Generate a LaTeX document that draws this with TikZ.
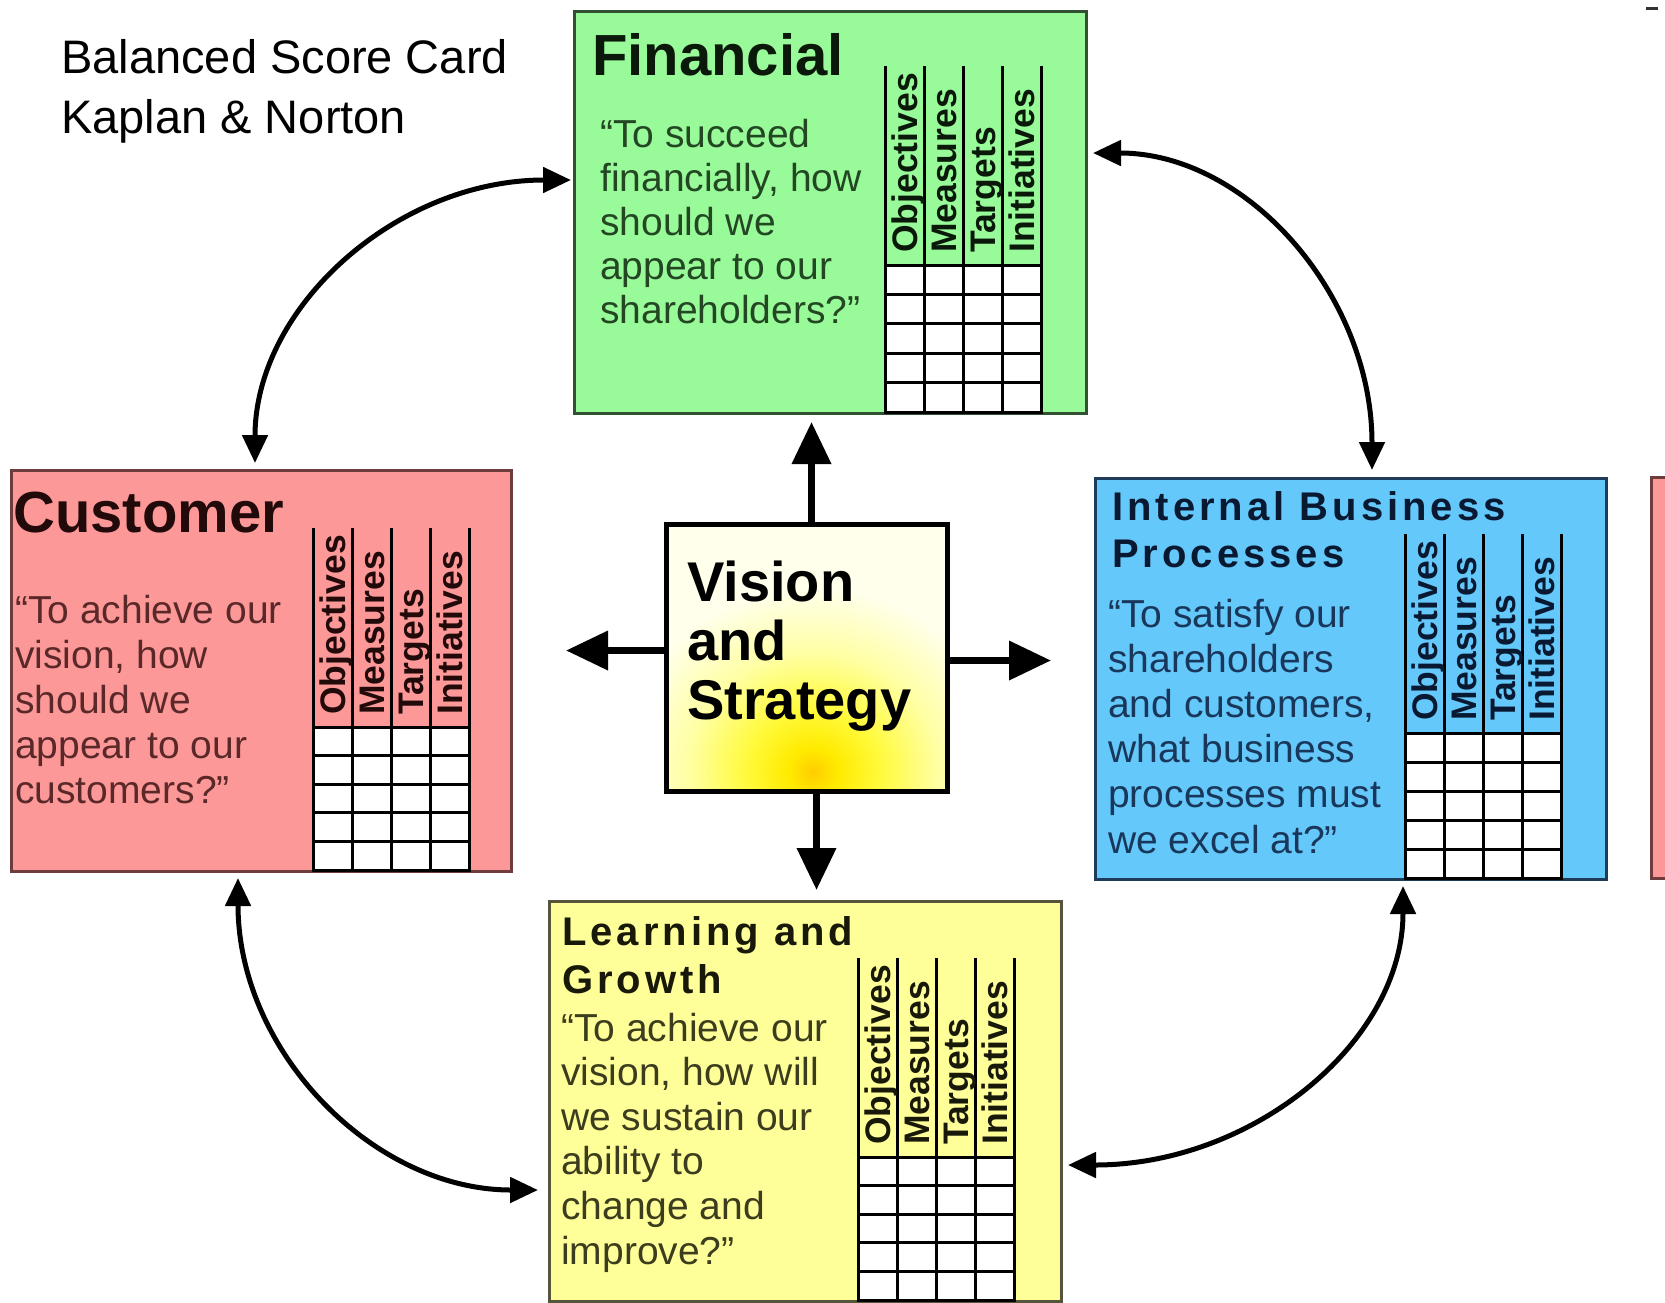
\documentclass[tikz,border=0pt]{standalone}
\usepackage{fontspec}
\setmainfont{Liberation Sans}
\newfontfamily\spacedfont[LetterSpace=10]{Liberation Sans}
\usetikzlibrary{arrows.meta}

\definecolor{finfill}{RGB}{152,250,152}
\definecolor{finline}{RGB}{50,80,50}
\definecolor{fintext}{RGB}{35,70,35}
\definecolor{fintitle}{RGB}{10,25,10}
\definecolor{custfill}{RGB}{252,152,152}
\definecolor{custline}{RGB}{110,60,60}
\definecolor{custtext}{RGB}{90,40,40}
\definecolor{custtitle}{RGB}{35,10,10}
\definecolor{ibpfill}{RGB}{100,200,250}
\definecolor{ibpline}{RGB}{30,60,90}
\definecolor{ibptext}{RGB}{25,55,90}
\definecolor{ibptitle}{RGB}{10,25,50}
\definecolor{lgfill}{RGB}{255,255,153}
\definecolor{lgline}{RGB}{85,85,60}
\definecolor{lgtext}{RGB}{60,60,30}
\definecolor{lgtitle}{RGB}{25,25,10}
\definecolor{visbg}{RGB}{255,255,235}
\definecolor{glowA}{RGB}{255,205,0}
\definecolor{glowB}{RGB}{255,235,0}
\definecolor{glowC}{RGB}{255,250,60}
\definecolor{glowD}{RGB}{255,255,165}

\pgfdeclareradialshading{visglow}{\pgfpoint{0bp}{0bp}}{color(0bp)=(glowA); color(3bp)=(glowB); color(8bp)=(glowC); color(15bp)=(glowD); color(23bp)=(visbg); color(50bp)=(visbg)}

\tikzset{
  panel/.style={draw, line width=3pt, anchor=north west, inner sep=0pt},
  ttl/.style={anchor=base west, inner sep=0pt, font=\bfseries\fontsize{58}{60}\selectfont},
  qtxt/.style={anchor=base west, inner sep=0pt},
  hdr/.style={rotate=90, anchor=base west, inner sep=0pt, font=\bfseries\fontsize{35.5}{40}\selectfont},
  gridline/.style={line width=3pt, black, line cap=rect},
  bigarrow/.style={line width=7pt, -{Triangle[length=42pt,width=38pt]}},
  curvarrow/.style={line width=5pt, {Triangle[length=28pt,width=25pt]}-{Triangle[length=28pt,width=25pt]}},
}

% #1 x0, #2 header bottom y, #3 bottom y, #4 text colour, #5 name prefix
\newcommand{\bsctable}[5]{%
  \fill[white] (#1,#2) rectangle ({#1+156},#3);
  \foreach \i in {0,...,4} \draw[gridline] ({#1+39*\i},{#2-198}) -- ({#1+39*\i},#3);
  \foreach \j in {0,...,5} \draw[gridline] (#1,{#2+(#3-#2)*\j/5}) -- ({#1+156},{#2+(#3-#2)*\j/5});
  \node[hdr, text=#4] (#5obj) at ({#1+32},{#2-12}) {Objectives};
  \node[hdr, text=#4] (#5mea) at ({#1+71},{#2-12}) {Measures};
  \node[hdr, text=#4] (#5tar) at ({#1+110},{#2-12}) {Targets};
  \node[hdr, text=#4] (#5ini) at ({#1+149},{#2-12}) {Initiatives};
}

\begin{document}
\begin{tikzpicture}[x=1pt, y=-1pt]
\useasboundingbox[fill=white] (0,0) rectangle (1665,1302);

% title
\node[qtxt] (title) at (61,73) {\parbox[t]{500pt}{\fontsize{47}{60}\selectfont Balanced Score Card\\Kaplan \& Norton}};

% partial box at right edge and small mark
\fill[custfill] (1651,477) rectangle (1666,878);
\draw[custline, line width=3pt] (1666,477) -- (1651,477) -- (1651,878) -- (1666,878);
\draw[line width=3pt, black!80] (1646,8) -- (1658,8);

% panels
\node[panel, fill=finfill, draw=finline, minimum width=512pt, minimum height=402pt] (fin) at (573,10) {};
\node[panel, fill=custfill, draw=custline, minimum width=500pt, minimum height=401pt] (cust) at (10,469) {};
\node[panel, fill=ibpfill, draw=ibpline, minimum width=511pt, minimum height=401pt] (ibp) at (1094,477) {};
\node[panel, fill=lgfill, draw=lgline, minimum width=512pt, minimum height=400pt] (lg) at (548,900) {};

% tables
\bsctable{885}{265}{412}{fintitle}{f}
\bsctable{313}{727}{870}{custtitle}{c}
\bsctable{1405}{733}{878}{ibptitle}{p}
\bsctable{858}{1157}{1300}{lgtitle}{l}

% panel texts
\node[ttl, text=fintitle] (fint) at (592,75) {Financial};
\node[qtxt, text=fintext] (finq) at (600,147) {\parbox[t]{300pt}{\fontsize{39}{44}\selectfont “To succeed\\financially, how\\should we\\appear to our\\shareholders?”}};

\node[ttl, text=custtitle] (custt) at (13,532) {Customer};
\node[qtxt, text=custtext] (custq) at (15,623) {\parbox[t]{300pt}{\fontsize{39}{45}\selectfont “To achieve our\\vision, how\\should we\\appear to our\\customers?”}};

\node[qtxt, text=ibptitle] (ibpt) at (1112,520) {\parbox[t]{480pt}{\spacedfont\bfseries\fontsize{40}{47}\selectfont Internal Business\\Processes}};
\node[qtxt, text=ibptext] (ibpq) at (1108,627) {\parbox[t]{300pt}{\fontsize{39}{45.2}\selectfont “To satisfy our\\shareholders\\and customers,\\what business\\processes must\\we excel at?”}};

\node[qtxt, text=lgtitle] (lgt) at (562,945) {\parbox[t]{480pt}{\spacedfont\bfseries\fontsize{40}{48}\selectfont Learning and\\Growth}};
\node[qtxt, text=lgtext] (lgq) at (561,1041) {\parbox[t]{300pt}{\fontsize{39}{44.6}\selectfont “To achieve our\\vision, how will\\we sustain our\\ability to\\change and\\improve?”}};

% vision box
\begin{scope}
  \clip (664,522) rectangle (945,789);
  \fill[visbg] (664,522) rectangle (945,789);
  \shade[shading=visglow] (813,772) ellipse [x radius=210, y radius=200];
\end{scope}
\node[panel, draw=black, line width=5pt, minimum width=281pt, minimum height=267pt] (vis) at (664,522) {};
\node[qtxt] (vist) at (687,601) {\parbox[t]{260pt}{\bfseries\fontsize{56}{59}\selectfont Vision\\and\\Strategy}};

% straight arrows
\draw[bigarrow] ([xshift=4.5pt]vis.north) -- ([xshift=4.5pt, yshift=-7pt]vis.north |- fin.south);
\draw[bigarrow] ([xshift=9.5pt]vis.south) -- ([xshift=9.5pt, yshift=10pt]vis.south |- lg.north);
\draw[bigarrow] ([yshift=7.5pt]vis.west) -- ([xshift=-98pt, yshift=7.5pt]vis.west);
\draw[bigarrow] ([yshift=-2.5pt]vis.east) -- ([xshift=101pt, yshift=-2.5pt]vis.east);

% curved arrows
\draw[curvarrow] ([xshift=245pt, yshift=6pt]cust.north west) .. controls +(0,-156) and +(-174,0) .. ([xshift=-2pt, yshift=-170pt]fin.north west);
\draw[curvarrow] ([xshift=5pt, yshift=-143pt]fin.north east) .. controls +(155,0) and +(0,-174) .. ([xshift=278pt, yshift=7pt]ibp.north west);
\draw[curvarrow] ([xshift=228pt, yshift=-5pt]cust.south west) .. controls +(0,173) and +(-165,0) .. ([xshift=-10pt, yshift=-290pt]lg.north west);
\draw[curvarrow] ([xshift=309pt, yshift=-5pt]ibp.south west) .. controls +(0,155) and +(186,0) .. ([xshift=5pt, yshift=-265pt]lg.north east);
\end{tikzpicture}
\end{document}
